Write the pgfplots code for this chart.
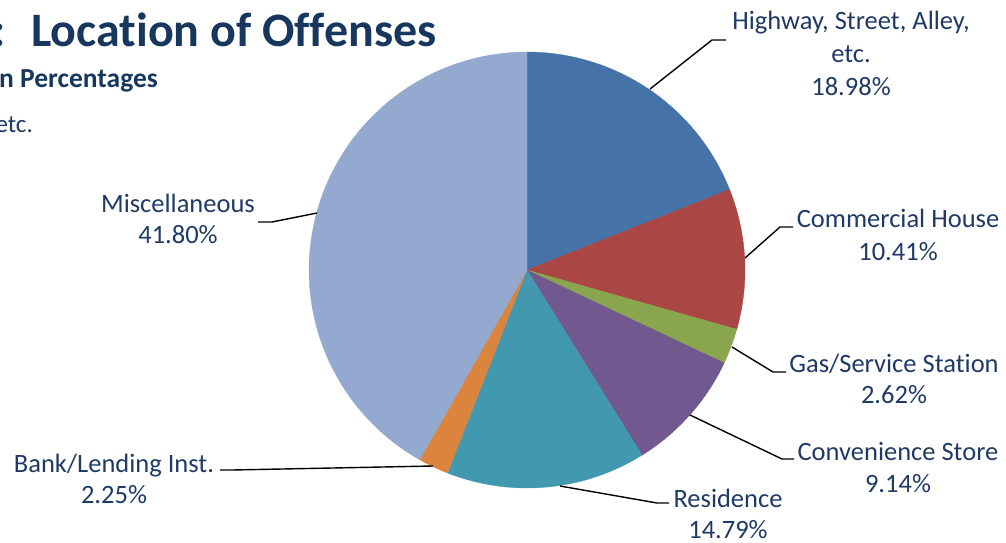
\documentclass[border=0pt]{standalone}
\usepackage{pgfplots}
\pgfplotsset{compat=1.18}
\usepackage{fontspec}
\setmainfont{Carlito}[Ligatures=NoCommon]
\definecolor{cA}{HTML}{4572A7}
\definecolor{cB}{HTML}{AA4643}
\definecolor{cC}{HTML}{89A54E}
\definecolor{cD}{HTML}{71588F}
\definecolor{cE}{HTML}{4198AF}
\definecolor{cF}{HTML}{DB843D}
\definecolor{cG}{HTML}{93A9CF}
\definecolor{txt}{HTML}{1F3A66}
\definecolor{ttl}{HTML}{17375E}
\tikzset{lbl/.style={text=txt, font=\fontsize{26.5}{30}\selectfont, anchor=base, inner sep=0pt}}
% slice: cumulative start %, end %, colour
\newcommand{\slice}[3]{%
  \addplot[fill=#3, draw=#3, line width=0.3pt, domain=#1:#2, samples=90, variable=\t]
    ({527+218*cos(90-3.6*\t)}, {270-218*sin(90-3.6*\t)}) -- (axis cs:527,270) -- cycle;
}
\begin{document}
\begin{tikzpicture}
\useasboundingbox (0,0) rectangle (1006pt,543pt);
\begin{axis}[
  at={(0,0)}, anchor=south west,
  width=1006pt, height=543pt, scale only axis,
  xmin=0, xmax=1006, ymin=0, ymax=543, y dir=reverse,
  hide axis, clip=false,
]
% values: 18.98, 10.41, 2.62, 9.14, 14.79, 2.25, 41.80 (cumulative below)
\slice{0}{18.98}{cA}
\slice{18.98}{29.39}{cB}
\slice{29.39}{32.01}{cC}
\slice{32.01}{41.15}{cD}
\slice{41.15}{55.94}{cE}
\slice{55.94}{58.19}{cF}
\slice{58.19}{100}{cG}
% leader lines
\addplot[black, line width=1.4pt] coordinates {(650,89) (712,40) (726,40)};
\addplot[black, line width=1.4pt] coordinates {(745,258) (780,227) (793,227)};
\addplot[black, line width=1.4pt] coordinates {(732,347) (773,372) (786,372)};
\addplot[black, line width=1.4pt] coordinates {(690,415) (782,459) (794,459)};
\addplot[black, line width=1.4pt] coordinates {(560,486) (657,503) (669,503)};
\addplot[black, line width=1.4pt] coordinates {(433,466) (232,470) (220,470)};
\addplot[black, line width=1.4pt] coordinates {(317,213) (272,222) (258,222)};
% labels
\node[lbl] at (axis cs:851,30) {Highway, Street, Alley,};
\node[lbl] at (axis cs:851,63) {etc.};
\node[lbl] at (axis cs:851,95) {18.98\%};
\node[lbl] at (axis cs:898,227) {Commercial House};
\node[lbl] at (axis cs:898,260) {10.41\%};
\node[lbl] at (axis cs:894,372) {Gas/Service Station};
\node[lbl] at (axis cs:894,403) {2.62\%};
\node[lbl] at (axis cs:898,460) {Convenience Store};
\node[lbl] at (axis cs:898,492) {9.14\%};
\node[lbl] at (axis cs:728,507) {Residence};
\node[lbl] at (axis cs:728,538) {14.79\%};
\node[lbl] at (axis cs:114,472) {Bank/Lending Inst.};
\node[lbl] at (axis cs:114,503) {2.25\%};
\node[lbl] at (axis cs:178,212) {Miscellaneous};
\node[lbl] at (axis cs:178,243) {41.80\%};
% cropped title block
\node[anchor=base west, inner sep=0pt, text=ttl, font=\fontsize{48}{50}\selectfont\bfseries] at (axis cs:31,47) {Location of Offenses};
\node[anchor=base east, inner sep=0pt, text=ttl, font=\fontsize{48}{50}\selectfont\bfseries] at (axis cs:6,47) {5:};
\node[anchor=base east, inner sep=0pt, text=ttl, font=\fontsize{27.5}{30}\selectfont\bfseries] at (axis cs:158,87) {Shown in Percentages};
\node[anchor=base east, inner sep=0pt, text=txt, font=\fontsize{25}{30}\selectfont] at (axis cs:33,132) {Alley, etc.};
\end{axis}
\end{tikzpicture}
\end{document}
